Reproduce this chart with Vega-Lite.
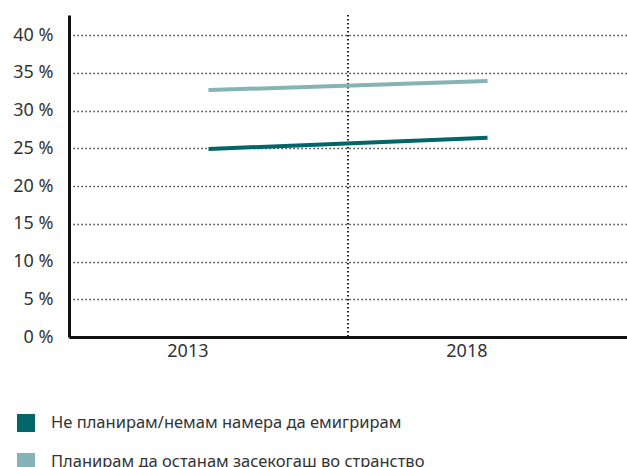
{
  "$schema": "https://vega.github.io/schema/vega-lite/v6.json",
  "width": 558,
  "height": 322,
  "autosize": {"type": "none"},
  "padding": {"left": 69, "top": 15, "right": 0, "bottom": 130},
  "background": "white",
  "config": {
    "view": {"stroke": null},
    "font": "Noto Sans"
  },
  "data": {
    "values": [
      {"year": "2013", "series": "Не планирам/немам намера да емигрирам", "value": 24.9},
      {"year": "2018", "series": "Не планирам/немам намера да емигрирам", "value": 26.4},
      {"year": "2013", "series": "Планирам да останам засекогаш во странство", "value": 32.7},
      {"year": "2018", "series": "Планирам да останам засекогаш во странство", "value": 33.9}
    ]
  },
  "layer": [
    {
      "mark": {"type": "rule", "stroke": "#222222", "strokeWidth": 1.3, "strokeDash": [1.3, 2.7]},
      "encoding": {
        "x": {"datum": "2013", "type": "nominal", "bandPosition": 1}
      }
    },
    {
      "mark": {"type": "line", "strokeWidth": 4, "strokeCap": "butt"},
      "encoding": {
        "x": {
          "field": "year", "type": "nominal",
          "scale": {"domain": ["2013", "2018"], "paddingInner": 0, "paddingOuter": 0},
          "axis": {
            "title": null, "labelAngle": 0, "ticks": false, "grid": false,
            "labelFont": "Noto Sans", "labelFontSize": 18, "labelColor": "#333333",
            "domainColor": "#111111", "domainWidth": 3, "labelPadding": 14
          }
        },
        "y": {
          "field": "value", "type": "quantitative",
          "scale": {"domain": [0, 42.65], "nice": false, "zero": true},
          "axis": {
            "title": null, "values": [0, 5, 10, 15, 20, 25, 30, 35, 40],
            "labelExpr": "datum.value + ' %'",
            "labelFont": "Noto Sans", "labelFontSize": 18, "labelColor": "#333333",
            "ticks": false, "labelPadding": 16,
            "domainColor": "#111111", "domainWidth": 3,
            "grid": true, "gridColor": "#222222", "gridWidth": 1.3, "gridDash": [1.3, 2.7]
          }
        },
        "color": {
          "field": "series", "type": "nominal",
          "scale": {
            "domain": ["Не планирам/немам намера да емигрирам", "Планирам да останам засекогаш во странство"],
            "range": ["#00666a", "#86b4b6"]
          },
          "legend": {
            "title": null, "orient": "none", "legendX": -52, "legendY": 399,
            "direction": "vertical",
            "symbolType": "square", "symbolSize": 324, "symbolStrokeWidth": 0, "symbolOpacity": 1,
            "labelFont": "Noto Sans", "labelFontSize": 16.5, "labelColor": "#333333",
            "labelOffset": 16, "rowPadding": 21, "padding": 0, "labelLimit": 0,
            "encode": {
              "symbols": {"update": {"fill": {"scale": "color", "field": "value"}, "strokeWidth": {"value": 0}, "opacity": {"value": 1}}}
            }
          }
        }
      }
    }
  ]
}
